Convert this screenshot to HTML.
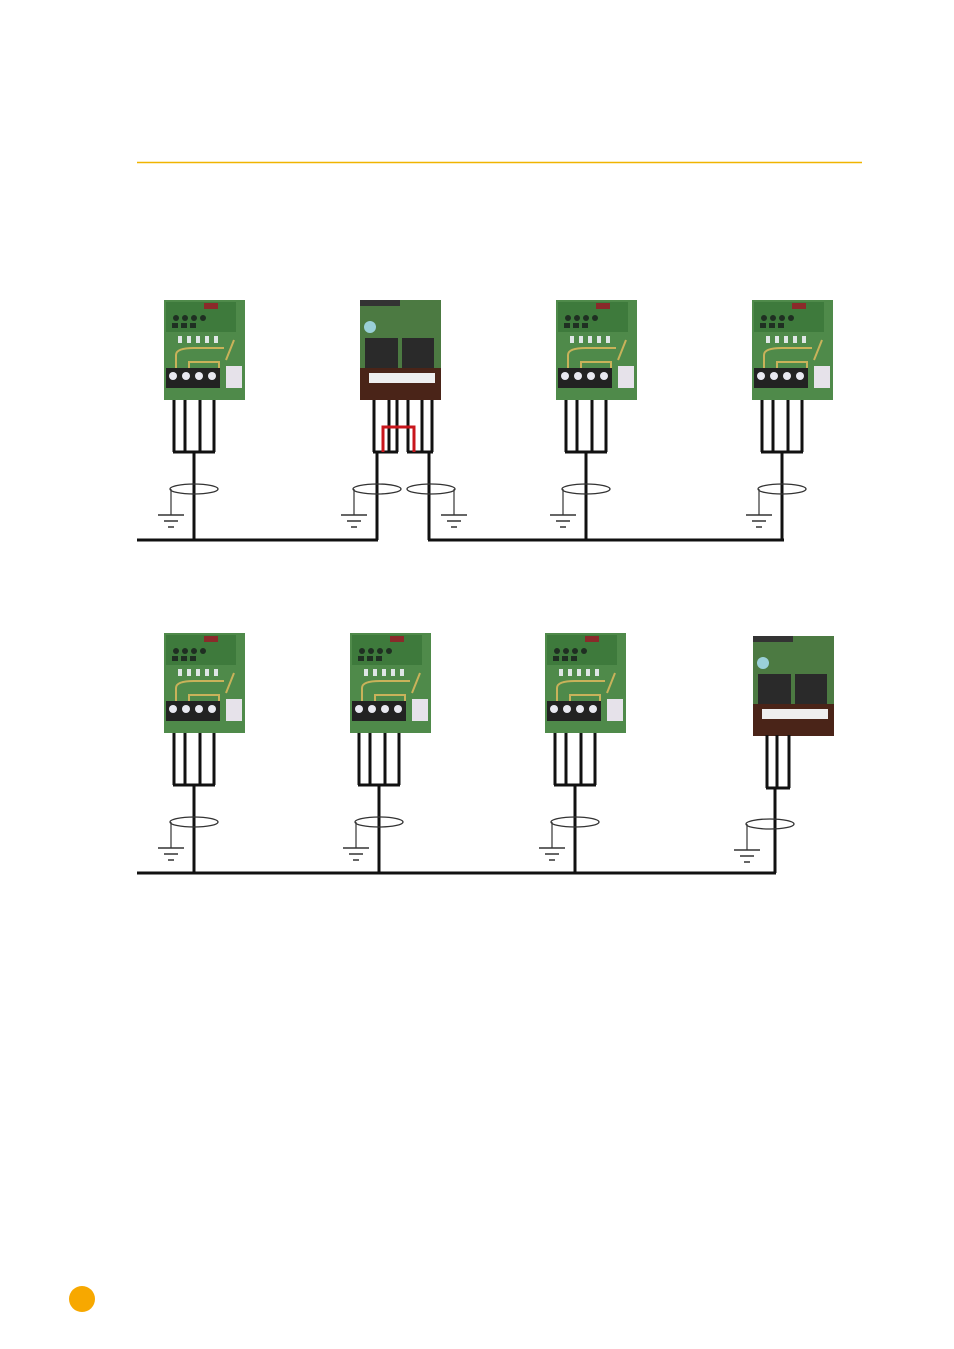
<!DOCTYPE html>
<html><head><meta charset="utf-8"><style>
html,body{margin:0;padding:0;background:#fff;}
svg{display:block;}
</style></head><body>
<svg width="954" height="1349" viewBox="0 0 954 1349" xmlns="http://www.w3.org/2000/svg">
<defs>
<g id="ga" stroke="none">
  <rect x="0" y="0" width="81" height="100" fill="#4f8a4a"/>
  <rect x="2" y="2" width="70" height="30" fill="#3e7a3c"/>
  <rect x="40" y="3" width="14" height="6" fill="#8a2a2a"/>
  <g fill="#1f2f22"><circle cx="12" cy="18" r="3"/><circle cx="21" cy="18" r="3"/><circle cx="30" cy="18" r="3"/><circle cx="39" cy="18" r="3"/>
  <rect x="8" y="23" width="6" height="5"/><rect x="17" y="23" width="6" height="5"/><rect x="26" y="23" width="6" height="5"/></g>
  <g fill="#dfe6e6"><rect x="14" y="36" width="4" height="7"/><rect x="23" y="36" width="4" height="7"/><rect x="32" y="36" width="4" height="7"/><rect x="41" y="36" width="4" height="7"/><rect x="50" y="36" width="4" height="7"/></g>
  <path d="M12 70 V55 Q12 48 30 48 H60 M25 68 V62 H55 V70 M62 60 L70 40" stroke="#c9b25a" stroke-width="2" fill="none"/>
  <rect x="2" y="68" width="54" height="20" fill="#222"/>
  <g fill="#e8e8f0"><circle cx="9" cy="76" r="4"/><circle cx="22" cy="76" r="4"/><circle cx="35" cy="76" r="4"/><circle cx="48" cy="76" r="4"/></g>
  <rect x="62" y="66" width="16" height="22" fill="#e6e2ea"/>
</g>
<g id="gb" stroke="none">
  <rect x="0" y="0" width="81" height="100" fill="#4c7a42"/>
  <rect x="0" y="0" width="40" height="6" fill="#333"/>
  <circle cx="10" cy="27" r="6" fill="#9ad0d8"/>
  <rect x="5" y="38" width="33" height="30" fill="#2a2a2a"/>
  <rect x="42" y="38" width="32" height="30" fill="#2a2a2a"/>
  <rect x="0" y="68" width="81" height="32" fill="#4a2418"/>
  <rect x="9" y="73" width="66" height="10" fill="#eee"/>
</g>
<g id="gnd" stroke="#333" fill="none">
  <ellipse cx="0" cy="0" rx="24" ry="5" stroke-width="1.3"/>
  <path d="M-23 0 V26" stroke-width="1.2"/>
  <path d="M-36 26 H-10 M-30 32 H-16 M-26 38 H-20" stroke-width="1.5"/>
</g>
</defs>

<line x1="137" y1="162.5" x2="862" y2="162.5" stroke="#f0b400" stroke-width="1.5"/>
<circle cx="82" cy="1299" r="13" fill="#f7a800"/>

<use href="#ga" x="164" y="300"/>
<use href="#gb" x="360" y="300"/>
<use href="#ga" x="556" y="300"/>
<use href="#ga" x="752" y="300"/>
<use href="#ga" x="164" y="633"/>
<use href="#ga" x="350" y="633"/>
<use href="#ga" x="545" y="633"/>
<use href="#gb" x="753" y="636"/>

<g stroke="#111" stroke-width="3" fill="none">
<path d="M174 400V452M185 400V452M200 400V452M214 400V452M173 452H215M194 452V540"/>
<path d="M374 400V452M389 400V452M397 400V452M408 400V452M422 400V452M432 400V452M373 452H398M407 452H433M377 452V540M429 452V540"/>
<path d="M383 452V427H414V452" stroke="#c8161c"/>
<path d="M566 400V452M577 400V452M592 400V452M606 400V452M565 452H607M586 452V540"/>
<path d="M762 400V452M773 400V452M788 400V452M802 400V452M761 452H803M782 452V540"/>
<path d="M137 540H378M428 540H784"/>
<path d="M174 733V785M185 733V785M200 733V785M214 733V785M173 785H215M194 785V873"/>
<path d="M359 733V785M370 733V785M385 733V785M399 733V785M358 785H400M379 785V873"/>
<path d="M555 733V785M566 733V785M581 733V785M595 733V785M554 785H596M575 785V873"/>
<path d="M767 735V788M777 735V788M789 735V788M766 788H790M775 788V873"/>
<path d="M137 873H776"/>
</g>
<use href="#gnd" x="194" y="489"/>
<use href="#gnd" x="377" y="489"/>
<use href="#gnd" x="431" y="489" transform="translate(862,0) scale(-1,1)"/>
<use href="#gnd" x="586" y="489"/>
<use href="#gnd" x="782" y="489"/>
<use href="#gnd" x="194" y="822"/>
<use href="#gnd" x="379" y="822"/>
<use href="#gnd" x="575" y="822"/>
<use href="#gnd" x="770" y="824"/>
</svg>
</body></html>
